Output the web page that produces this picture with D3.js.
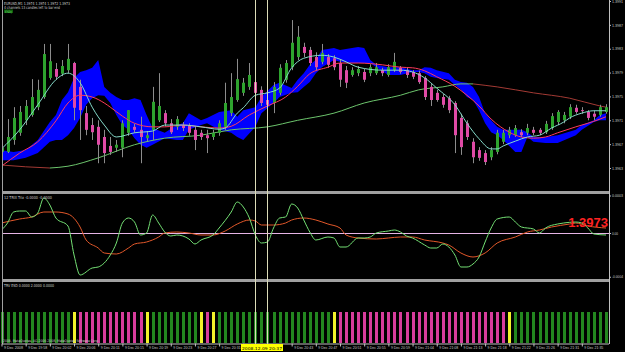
<!DOCTYPE html>
<html>
<head>
<meta charset="utf-8">
<script src="https://cdn.jsdelivr.net/npm/d3@7"></script>
<style>
  body { margin: 0; background: #000; }
  svg { display: block; font-family: "DejaVu Sans", sans-serif; }
</style>
</head>
<body>
<div id="chart"></div>
<script>
/* EURUSD M1 chart with bands, TRIX and state histogram */

// candles, one per bar, index 0 = leftmost
const open = [1.39657,1.39657,1.39677,1.39689,1.39710,1.39719,1.39732,1.39749,1.39781,1.39796,1.39788,1.39794,1.39806,1.39766,1.39722,1.39702,1.39699,1.39682,1.39667,1.39664,
  1.39664,1.39689,1.39699,1.39694,1.39680,1.39694,1.39710,1.39722,1.39705,1.39699,1.39702,1.39702,1.39694,1.39689,1.39685,1.39682,1.39689,1.39699,1.39722,1.39744,
  1.39756,1.39766,1.39774,1.39761,1.39744,1.39739,1.39756,1.39778,1.39799,1.39816,1.39833,1.39828,1.39816,1.39808,1.39816,1.39814,1.39806,1.39794,1.39786,1.39789,
  1.39791,1.39789,1.39789,1.39794,1.39786,1.39794,1.39798,1.39794,1.39791,1.39789,1.39781,1.39766,1.39756,1.39749,1.39747,1.39739,1.39714,1.39705,1.39674,1.39660,
  1.39655,1.39648,1.39657,1.39674,1.39685,1.39685,1.39690,1.39689,1.39694,1.39694,1.39690,1.39697,1.39707,1.39710,1.39716,1.39731,1.39727,1.39724,1.39721,1.39719,1.39724];
const high = [1.39667,1.39712,1.39732,1.39734,1.39744,1.39779,1.39778,1.39838,1.39838,1.39806,1.39811,1.39838,1.39808,1.39778,1.39734,1.39714,1.39710,1.39694,1.39682,1.39677,
  1.39710,1.39727,1.39704,1.39716,1.39692,1.39766,1.39789,1.39727,1.39712,1.39717,1.39707,1.39705,1.39699,1.39694,1.39694,1.39694,1.39710,1.39773,1.39789,1.39813,
  1.39781,1.39806,1.39784,1.39767,1.39751,1.39774,1.39804,1.39811,1.39878,1.39868,1.39840,1.39833,1.39824,1.39838,1.39821,1.39819,1.39811,1.39801,1.39799,1.39801,
  1.39796,1.39804,1.39806,1.39798,1.39804,1.39823,1.39801,1.39798,1.39794,1.39793,1.39784,1.39771,1.39761,1.39754,1.39751,1.39742,1.39721,1.39710,1.39680,1.39665,
  1.39660,1.39665,1.39694,1.39694,1.39699,1.39702,1.39695,1.39704,1.39699,1.39697,1.39709,1.39722,1.39727,1.39724,1.39737,1.39736,1.39732,1.39727,1.39726,1.39736,1.39737];
const low = [1.39650,1.39655,1.39669,1.39684,1.39702,1.39716,1.39727,1.39746,1.39778,1.39778,1.39784,1.39789,1.39710,1.39677,1.39685,1.39677,1.39638,1.39638,1.39652,1.39657,
  1.39648,1.39684,1.39689,1.39638,1.39675,1.39677,1.39707,1.39700,1.39687,1.39694,1.39692,1.39684,1.39660,1.39677,1.39655,1.39677,1.39684,1.39694,1.39717,1.39741,
  1.39751,1.39761,1.39747,1.39734,1.39731,1.39722,1.39752,1.39773,1.39794,1.39811,1.39816,1.39801,1.39793,1.39804,1.39798,1.39794,1.39766,1.39764,1.39783,1.39784,
  1.39774,1.39784,1.39786,1.39784,1.39783,1.39791,1.39788,1.39781,1.39779,1.39771,1.39744,1.39734,1.39741,1.39731,1.39722,1.39655,1.39652,1.39677,1.39638,1.39642,
  1.39635,1.39643,1.39653,1.39670,1.39680,1.39682,1.39682,1.39685,1.39685,1.39685,1.39687,1.39694,1.39702,1.39705,1.39712,1.39721,1.39721,1.39710,1.39710,1.39716,1.39721];
const close = [1.39664,1.39682,1.39714,1.39724,1.39734,1.39749,1.39761,1.39821,1.39809,1.39783,1.39801,1.39813,1.39731,1.39727,1.39694,1.39690,1.39669,1.39655,1.39657,1.39669,
  1.39705,1.39727,1.39694,1.39682,1.39685,1.39741,1.39734,1.39705,1.39690,1.39712,1.39697,1.39689,1.39677,1.39682,1.39680,1.39689,1.39705,1.39739,1.39749,1.39779,
  1.39773,1.39786,1.39756,1.39739,1.39736,1.39766,1.39798,1.39806,1.39840,1.39850,1.39823,1.39806,1.39799,1.39823,1.39803,1.39799,1.39778,1.39773,1.39794,1.39796,
  1.39778,1.39799,1.39799,1.39789,1.39799,1.39808,1.39791,1.39786,1.39783,1.39774,1.39749,1.39744,1.39744,1.39736,1.39727,1.39685,1.39665,1.39682,1.39648,1.39647,
  1.39640,1.39660,1.39689,1.39689,1.39694,1.39697,1.39685,1.39697,1.39689,1.39689,1.39704,1.39717,1.39724,1.39719,1.39732,1.39724,1.39726,1.39714,1.39716,1.39732,1.39732];

// moving averages as [bar index, price]
const fastMA = [[0,1.39662],[3,1.39694],[6,1.39736],[9,1.39778],[11,1.39789],[13,1.39773],[15,1.39732],[17,1.39702],[19,1.39682],[22,1.39689],[25,1.39692],[27,1.39702],
  [30,1.39702],[33,1.39699],[36,1.39695],[37,1.39697],[39,1.39722],[40,1.39731],[42,1.39752],[44,1.39756],[46,1.39764],[48,1.39798],[50,1.39814],[53,1.39819],[55,1.39816],
  [57,1.39808],[59,1.39799],[63,1.39794],[66,1.39794],[68,1.39791],[70,1.39781],[72,1.39764],[75,1.39736],[77,1.39705],[79,1.39679],[81,1.39662],[82,1.39662],[83,1.39667],
  [85,1.39675],[87,1.39682],[89,1.39685],[91,1.39697],[93,1.39707],[94,1.39714],[96,1.39722],[98,1.39726],[100,1.39726]];
const midMA = [[0,1.39633],[3,1.39655],[6,1.39674],[9,1.39709],[11,1.39739],[13,1.39752],[15,1.39749],[17,1.39739],[18,1.39732],[20,1.39717],[22,1.39705],[25,1.39699],
  [27,1.39699],[30,1.39702],[33,1.39699],[36,1.39697],[38,1.39700],[41,1.39719],[44,1.39734],[47,1.39749],[49,1.39767],[51,1.39788],[54,1.39799],[56,1.39806],[59,1.39806],
  [63,1.39803],[66,1.39799],[68,1.39798],[70,1.39793],[72,1.39783],[75,1.39767],[77,1.39752],[79,1.39734],[81,1.39712],[84,1.39690],[86,1.39682],[88,1.39680],[90,1.39682],
  [92,1.39689],[95,1.39699],[97,1.39705],[99,1.39712],[100,1.39716]];
const slowMA = [[0,1.39635],[4,1.39632],[8,1.39630],[11,1.39633],[16,1.39647],[22,1.39669],[27,1.39680],[33,1.39685],[38,1.39694],[44,1.39699],[49,1.39710],[55,1.39722],
  [60,1.39739],[66,1.39752],[69,1.39761],[73,1.39766],[76,1.39771],[78,1.39771],[82,1.39766],[88,1.39756],[94,1.39747],[99,1.39734],[100,1.39732]];

// channel band
const bandIdx = [0,2,4,6,8,9,10,11,12,13,14,15,16,17,18,19,20,21,22,23,24,25,27,29,30,31,33,34,36,38,39,40,42,43,45,46,48,49,50,51,52,53,55,56,58,59,60,61,62,64,66,68,69,70,
  71,72,74,75,76,77,78,79,80,81,82,83,85,86,87,88,90,92,95,96,98,99,100];
const bandUpper = [1.39660,1.39657,1.39660,1.39677,1.39707,1.39719,1.39744,1.39757,1.39781,1.39791,1.39794,1.39798,1.39811,1.39766,1.39756,1.39749,1.39744,1.39744,1.39747,
  1.39744,1.39719,1.39697,1.39689,1.39702,1.39705,1.39722,1.39710,1.39714,1.39724,1.39727,1.39716,1.39727,1.39732,1.39749,1.39769,1.39773,1.39764,1.39778,1.39789,1.39803,
  1.39811,1.39828,1.39831,1.39828,1.39831,1.39833,1.39831,1.39811,1.39803,1.39799,1.39799,1.39794,1.39794,1.39799,1.39798,1.39794,1.39789,1.39778,1.39774,1.39773,1.39766,
  1.39749,1.39722,1.39710,1.39699,1.39694,1.39694,1.39694,1.39690,1.39682,1.39682,1.39685,1.39694,1.39702,1.39710,1.39719,1.39722];
const bandLower = [1.39643,1.39643,1.39647,1.39655,1.39674,1.39677,1.39677,1.39685,1.39697,1.39714,1.39736,1.39747,1.39752,1.39751,1.39739,1.39719,1.39702,1.39694,1.39680,
  1.39669,1.39664,1.39669,1.39680,1.39677,1.39677,1.39694,1.39702,1.39705,1.39694,1.39689,1.39682,1.39677,1.39699,1.39722,1.39739,1.39749,1.39756,1.39757,1.39766,1.39774,
  1.39789,1.39799,1.39811,1.39808,1.39806,1.39806,1.39806,1.39806,1.39799,1.39786,1.39786,1.39791,1.39791,1.39789,1.39783,1.39781,1.39778,1.39769,1.39761,1.39749,1.39744,
  1.39727,1.39705,1.39690,1.39685,1.39677,1.39657,1.39657,1.39682,1.39674,1.39672,1.39672,1.39685,1.39694,1.39707,1.39710,1.39710];

// TRIX panel as [bar index, value]
const trixFast = [[0,0.000024],[1,0.00008],[2,0.000168],[3,0.000176],[4,0.000176],[5,0.000128],[6,0.00016],[7,0.00028],[8,0.000224],[9,0.00012],[11,0.000056],
  [12,-0.000176],[13,-0.000336],[15,-0.00028],[16,-0.000272],[18,-0.000176],[19,-0.00008],[20,0.00008],[21,0.00012],[22,0.000088],[23,-0.000016],[24,0],[25,0.000144],
  [26,0.00008],[27,0.000008],[28,-0.000024],[29,-0.000016],[31,-0.000048],[32,-0.000088],[33,-0.000056],[35,-0.000016],[36,0.00004],[38,0.000168],[39,0.000248],
  [40,0.000208],[41,0.00012],[42,-0.000016],[43,-0.00008],[44,-0.000072],[45,0.00004],[46,0.00012],[47,0.000128],[48,0.000232],[49,0.0002],[50,0.000104],[51,0.000008],
  [52,-0.000056],[54,-0.000032],[55,-0.00004],[56,-0.000112],[57,-0.000112],[59,-0.00004],[60,-0.00004],[61,-0.000032],[62,0],[64,0.000016],[65,0.000024],[66,0.000008],
  [67,-0.000024],[68,-0.00004],[70,-0.000096],[71,-0.00012],[72,-0.00012],[73,-0.000088],[74,-0.000112],[75,-0.000176],[76,-0.000272],[77,-0.000272],[78,-0.000248],
  [79,-0.000192],[80,-0.000072],[81,0.00004],[82,0.000112],[84,0.000128],[85,0.000088],[86,0.000048],[88,0.000032],[89,0],[90,0.00004],[92,0.000072],[93,0.00008],
  [95,0.000088],[96,0.00008],[97,0.00004],[98,-0.000008],[100,-0.000016]];
const trixSlow = [[0,0.00008],[3,0.000112],[5,0.000128],[7,0.000168],[9,0.000168],[11,0.000152],[13,0.000048],[14,-0.000056],[16,-0.00012],[17,-0.00016],[19,-0.000168],
  [21,-0.00012],[22,-0.000088],[24,-0.000072],[26,-0.000032],[27,0],[29,0.000008],[31,0],[33,-0.000016],[35,-0.000016],[37,0.000016],[39,0.000072],[41,0.000104],
  [42,0.000096],[43,0.000064],[45,0.000064],[47,0.00008],[48,0.000104],[50,0.00012],[52,0.000104],[54,0.000072],[56,0.00004],[57,-0.000016],[59,-0.00004],[62,-0.000048],
  [64,-0.00004],[66,-0.000032],[68,-0.000032],[70,-0.000056],[73,-0.00008],[74,-0.000096],[76,-0.00016],[78,-0.000192],[80,-0.00016],[82,-0.00008],[85,-0.000032],
  [87,0.000008],[89,0.000024],[91,0.000048],[94,0.000072],[95,0.00008],[97,0.000056],[100,0.00004]];

// histogram state per bar: g = up, m = down, y = switch
const histState = ("gggggggggggg" + "y" + "mmmmmmmmmmm" + "y" + "gggggggg" + "y" + "m" + "y" +
  "ggggggggggggggggggg" + "y" + "mmmmmmmmmmmmmmmmmmmmmmmmmmmm" + "y" + "gggggggggggggggg").split("");

// axis labels
const priceTicks = [1.3991, 1.3987, 1.3983, 1.3979, 1.3975, 1.3971, 1.3967, 1.3963];
const trixTicks = [0.0003, 0, -0.00035];
const trixTickText = ["0.0003", "0.00", "-0.0004"];
const timeTickIdx = d3.range(0, 100, 4);
const timeLabels = ["9 Dec 2008","9 Dec 19:58","9 Dec 20:02","9 Dec 20:06","9 Dec 20:11","9 Dec 20:15","9 Dec 20:19","9 Dec 20:23",
  "9 Dec 20:27","9 Dec 20:31","9 Dec 20:35","9 Dec 20:39","9 Dec 20:43","9 Dec 20:47","9 Dec 20:51","9 Dec 20:55","9 Dec 20:59",
  "9 Dec 21:04","9 Dec 21:08","9 Dec 21:13","9 Dec 21:18","9 Dec 21:22","9 Dec 21:26","9 Dec 21:31","9 Dec 21:35"];
const cursorIdx = [42, 44];
const cursorTime = "2008.12.09 20:37";

const width = 625, height = 352,
      plotLeft = 2, plotRight = 609;

let svg = d3.select("#chart")
    .append("svg")
    .attr("width", width)
    .attr("height", height)
    .attr("viewBox", [0, 0, width, height]);

svg.append("rect").attr("width", width).attr("height", height).attr("fill", "#000");

let defs = svg.append("defs");
defs.append("clipPath").attr("id", "clipMain").append("rect")
    .attr("x", plotLeft).attr("y", 0).attr("width", plotRight - plotLeft).attr("height", 191);
defs.append("clipPath").attr("id", "clipOsc").append("rect")
    .attr("x", plotLeft).attr("y", 194).attr("width", plotRight - plotLeft).attr("height", 85);

//scales
let x = d3.scaleLinear().domain([0, 100]).range([1.5, 606]);
let y = d3.scaleLinear().domain([1.3963, 1.3991]).range([168, 1]);
let oy = d3.scaleLinear().domain([-0.000352, 0.000304]).range([277, 195]);
let hy = d3.scaleLinear().domain([0, 1]).range([343, 312]);

// ---- main panel ----
let main = svg.append("g").attr("clip-path", "url(#clipMain)");

let band = bandIdx.map((i, k) => ({ i, up: bandUpper[k], lo: bandLower[k] }));
main.append("path")
    .datum(band)
    .attr("fill", "#0000ff")
    .attr("d", d3.area().x(d => x(d.i)).y0(d => y(d.lo)).y1(d => y(d.up)));

let line = d3.line().x(d => x(d[0])).y(d => y(d[1])).curve(d3.curveMonotoneX);

// slow line changes colour with its direction
let runs = [];
for (let k = 1; k < slowMA.length; k++) {
    let up = slowMA[k][1] >= slowMA[k - 1][1];
    let last = runs[runs.length - 1];
    if (last && last.up === up) last.pts.push(slowMA[k]);
    else runs.push({ up, pts: [slowMA[k - 1], slowMA[k]] });
}
main.selectAll(".slow")
    .data(runs)
    .join("path")
    .attr("class", "slow")
    .attr("fill", "none")
    .attr("stroke", d => d.up ? "#6cc46c" : "#a33a34")
    .attr("stroke-width", 1)
    .attr("d", d => line(d.pts));

let candles = open.map((o, i) => ({ i, o, h: high[i], l: low[i], c: close[i] }));
let bar = main.selectAll(".candle")
    .data(candles)
    .join("g")
    .attr("class", "candle");

bar.append("line")
    .attr("x1", d => Math.round(x(d.i)) + 0.5)
    .attr("x2", d => Math.round(x(d.i)) + 0.5)
    .attr("y1", d => y(d.h))
    .attr("y2", d => y(d.l))
    .attr("stroke", "#8c8c8c");

bar.append("rect")
    .attr("x", d => Math.round(x(d.i)) - 1)
    .attr("width", 3)
    .attr("y", d => y(Math.max(d.o, d.c)))
    .attr("height", d => Math.max(1, Math.abs(y(d.o) - y(d.c))))
    .attr("fill", d => d.c >= d.o ? "#2ea32e" : "#e04aa6");

main.append("path").datum(midMA)
    .attr("fill", "none").attr("stroke", "#ff3a5c").attr("stroke-width", 1)
    .attr("d", line);
main.append("path").datum(fastMA)
    .attr("fill", "none").attr("stroke", "#86dccb").attr("stroke-width", 1)
    .attr("d", line);

// ---- TRIX panel ----
let osc = svg.append("g").attr("clip-path", "url(#clipOsc)");
let oline = d3.line().x(d => x(d[0])).y(d => oy(d[1])).curve(d3.curveMonotoneX);

osc.append("line")
    .attr("x1", plotLeft).attr("x2", plotRight)
    .attr("y1", Math.round(oy(0)) + 0.5).attr("y2", Math.round(oy(0)) + 0.5)
    .attr("stroke", "#e6b4e6");
osc.append("path").datum(trixSlow)
    .attr("fill", "none").attr("stroke", "#e2582a").attr("stroke-width", 1)
    .attr("d", oline);
osc.append("path").datum(trixFast)
    .attr("fill", "none").attr("stroke", "#74e074").attr("stroke-width", 1)
    .attr("d", oline);

svg.append("text")
    .text(close[close.length - 1].toFixed(4))
    .attr("x", 608).attr("y", 227)
    .attr("text-anchor", "end")
    .attr("font-family", "Liberation Sans, Arial, sans-serif")
    .attr("font-weight", "bold")
    .attr("font-size", 13)
    .attr("fill", "#ff2222");

// ---- state histogram ----
const stateColor = { g: "#23861f", m: "#d83c9c", y: "#f2f22a" };
svg.selectAll(".hbar")
    .data(histState)
    .join("rect")
    .attr("class", "hbar")
    .attr("x", (d, i) => Math.round(x(i)) - 1)
    .attr("width", 3)
    .attr("y", hy(1))
    .attr("height", hy(0) - hy(1))
    .attr("fill", d => stateColor[d]);

// ---- frame ----
let frame = svg.append("g").attr("stroke", "#a0a0a0").attr("shape-rendering", "crispEdges");
frame.append("line").attr("x1", plotLeft + 0.5).attr("x2", plotLeft + 0.5).attr("y1", 0).attr("y2", 344);
frame.append("rect").attr("x", plotLeft).attr("y", 191.5).attr("width", plotRight - plotLeft).attr("height", 2).attr("fill", "#a0a0a0");
frame.append("rect").attr("x", plotLeft).attr("y", 279.5).attr("width", plotRight - plotLeft).attr("height", 2).attr("fill", "#a0a0a0");

// cursor lines
svg.selectAll(".cursor")
    .data(cursorIdx)
    .join("line")
    .attr("class", "cursor")
    .attr("x1", d => Math.round(x(d)) + 0.5)
    .attr("x2", d => Math.round(x(d)) + 0.5)
    .attr("y1", 0).attr("y2", 344)
    .attr("stroke", "#dcdcb8");

// axes
function styleAxis(g) {
    g.select(".domain").attr("stroke", "#c0c0c0");
    g.selectAll(".tick line").attr("stroke", "#c0c0c0");
    g.selectAll(".tick text").attr("fill", "#c8c8c8").attr("font-size", 3.8);
}

svg.append("g")
    .attr("transform", `translate(${plotRight},0)`)
    .call(d3.axisRight(y).tickValues(priceTicks).tickFormat(d3.format(".4f")).tickSize(2).tickPadding(1))
    .call(g => g.select(".domain").attr("d", "M0.5,0V344"))
    .call(styleAxis)
    .call(g => g.selectAll(".tick text").attr("textLength", 11).attr("lengthAdjust", "spacingAndGlyphs"));

svg.append("g")
    .attr("transform", `translate(${plotRight},0)`)
    .call(d3.axisRight(oy).tickValues(trixTicks).tickFormat((d, k) => trixTickText[k]).tickSize(2).tickPadding(1))
    .call(g => g.select(".domain").remove())
    .call(styleAxis)
    .call(g => g.selectAll(".tick text").attr("textLength", (d, k) => k === 1 ? 6 : 11).attr("lengthAdjust", "spacingAndGlyphs"));

// time axis; labels under the cursor box are covered by it
let boxX0 = Math.round(x(cursorIdx[0])) - 14, boxX1 = boxX0 + 42;
svg.append("g")
    .attr("transform", "translate(0,343.5)")
    .call(d3.axisBottom(x).tickValues(timeTickIdx).tickFormat((d, k) => timeLabels[k]).tickSize(3).tickPadding(0))
    .call(g => g.select(".domain").attr("d", `M${plotLeft},0.5H${plotRight}`))
    .call(styleAxis)
    .call(g => g.selectAll(".tick text")
        .attr("text-anchor", "start").attr("dx", 2).attr("y", 3).attr("dy", "0.71em")
        .attr("textLength", 19).attr("lengthAdjust", "spacingAndGlyphs")
        .filter(d => x(d) + 2 > boxX0 - 18 && x(d) + 2 < boxX1).remove());

// cursor time box
svg.append("rect").attr("x", boxX0).attr("y", 344).attr("width", boxX1 - boxX0).attr("height", 7).attr("fill", "#ffff00");
svg.append("text").text(cursorTime)
    .attr("x", boxX0 + 1).attr("y", 349.5).attr("font-size", 4).attr("fill", "#000")
    .attr("textLength", 40).attr("lengthAdjust", "spacingAndGlyphs");

// panel captions
let cap = svg.append("g").attr("font-size", 4).attr("fill", "#d0d0d0");
cap.append("text").text("EURUSD,M1  1.3974 1.3974 1.3972 1.3973")
    .attr("x", 4).attr("y", 5).attr("textLength", 66).attr("lengthAdjust", "spacingAndGlyphs");
cap.append("text").text("4 channels 13 candles left to bar end")
    .attr("x", 4).attr("y", 9).attr("textLength", 56).attr("lengthAdjust", "spacingAndGlyphs");
cap.append("rect").attr("x", 4).attr("y", 9.5).attr("width", 9).attr("height", 3.5).attr("fill", "#0d5e0d");
cap.append("text").text("ESDJ").attr("fill", "#6fd86f")
    .attr("x", 5).attr("y", 12.5).attr("font-size", 3).attr("textLength", 7).attr("lengthAdjust", "spacingAndGlyphs");
cap.append("text").text("12 TRIX Trix -0.0000 -0.0000")
    .attr("x", 4).attr("y", 198.5).attr("textLength", 48).attr("lengthAdjust", "spacingAndGlyphs");
cap.append("text").text("TRV ESD 0.0000 2.0000 0.0000")
    .attr("x", 4).attr("y", 286.5).attr("textLength", 50).attr("lengthAdjust", "spacingAndGlyphs");
cap.append("text").text("2006, MetaQuotes, AG 2006-2008, MetaQuotes Software Corp.")
    .attr("x", 3).attr("y", 342).attr("font-size", 3.5).attr("fill", "#c8c8c8")
    .attr("textLength", 96).attr("lengthAdjust", "spacingAndGlyphs");
</script>
</body>
</html>
